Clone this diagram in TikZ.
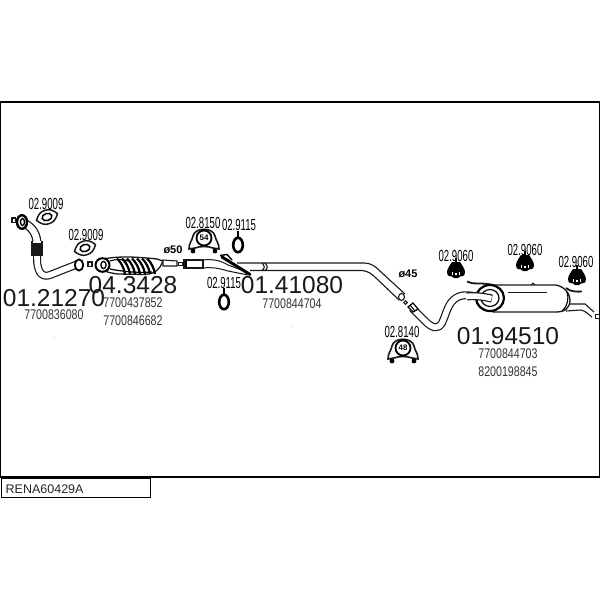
\documentclass[tikz,border=0pt]{standalone}
\usepackage{graphicx}
\usepackage{fontspec}
\setmainfont{Liberation Sans}
\newcommand{\tagtxt}[1]{\scalebox{0.60}[1]{\fontsize{16}{17}\selectfont #1}}
\newcommand{\numtxt}[1]{\scalebox{0.76}[1]{\fontsize{14}{15}\selectfont #1}}
\newcommand{\bigtxt}[1]{{\fontsize{24.5}{26}\selectfont #1}}
\tikzset{
 x=1pt,y=-1pt,
 tagl/.style={inner sep=0pt,text=black},
 numl/.style={inner sep=0pt,text=black!80},
 bigl/.style={inner sep=0pt,text=black!90},
 diam/.style={inner sep=0pt,font=\bfseries\fontsize{11}{12}\selectfont},
 pipeo/.style={line width=8pt,black!90,line cap=butt,line join=round},
 pipei/.style={line width=5.6pt,white,line cap=butt,line join=round},
 part/.style={draw=black!90,line width=1pt,fill=white},
 ring/.style={draw=black,line width=2.4pt,fill=white},
}
\newcommand{\clampicon}[3]{%
 \begin{scope}[shift={(#1,#2)}]
 \draw[part,line width=1.6pt] (-15,9) .. controls (-15,3) and (-12,1) .. (-11,-4) .. controls (-9,-13) and (9,-13) .. (11,-4) .. controls (12,1) and (15,3) .. (15,9) -- (9,8) .. controls (4,6) and (-4,6) .. (-9,8) -- cycle;
 \fill[black] (-11,11) circle (2.4); \fill[black] (11,11) circle (2.4);
 \node[draw=black,line width=1.8pt,fill=white,circle,minimum size=15pt,inner sep=0pt,font=\bfseries\fontsize{8}{8}\selectfont] at (0,-2) {#3};
 \end{scope}}
\newcommand{\gasket}[2]{%
 \begin{scope}[shift={(#1,#2)},rotate=18]
 \draw[part,line width=1.5pt] (-11,0) .. controls (-7,-6) and (-4,-7) .. (0,-7) .. controls (4,-7) and (7,-6) .. (11,0) .. controls (7,6) and (4,7) .. (0,7) .. controls (-4,7) and (-7,6) .. (-11,0) -- cycle;
 \draw[black,line width=1.5pt] (0,0) ellipse (5 and 3.6);
 \end{scope}}
\newcommand{\hanger}[2]{%
 \begin{scope}[shift={(#1,#2)}]
 \draw[black,line width=1.2pt] (0,-12) -- (0,-6);
 \fill[black] (-4,-8) -- (4,-8) .. controls (6,-5) and (9,-1) .. (9,2) .. controls (9,6) and (6,7) .. (4,6.5) -- (2,8) -- (-2,8) -- (-4,6.5) .. controls (-6,7) and (-9,6) .. (-9,2) .. controls (-9,-1) and (-6,-5) .. (-4,-8) -- cycle;
 \fill[white] (-4.4,2) rectangle (-3,5); \fill[white] (3,2) rectangle (4.4,5);
 \fill[white] (-0.8,3) rectangle (0.8,5);
 \end{scope}}
\newcommand{\rubber}[2]{%
 \begin{scope}[shift={(#1,#2)}]
 \draw[black,line width=1.2pt] (0,-14) -- (0,-8);
 \draw[black,line width=2.6pt,fill=white] (0,0) ellipse (4.8 and 7.2);
 \end{scope}}
\begin{document}
\begin{tikzpicture}
\useasboundingbox (0,0) rectangle (600,600);
\fill[white] (0,0) rectangle (600,600);
% frame
\draw[black,line width=1.1pt] (0.6,102) rectangle (599.4,477);
\node[draw=black,line width=1.1pt,minimum width=149pt,minimum height=19pt,inner sep=0pt,anchor=north west] (titlebox) at (1,478) {};
\node[inner sep=0pt,anchor=west,font=\fontsize{12.5}{13}\selectfont,text=black!85] (title) at (5.5,489) {RENA60429A};
% front pipe
\draw[pipeo,line width=9pt] (24,223) .. controls (32,227) and (37,234) .. (37,244);
\draw[pipei,line width=6.5pt] (24,223) .. controls (32,227) and (37,234) .. (37,244);
\draw[pipeo] (37,250) -- (37,258) .. controls (37,272) and (42,278) .. (50,275) -- (78,264);
\draw[pipei] (37,250) -- (37,258) .. controls (37,272) and (42,278) .. (50,275) -- (78,264);
\fill[black!90] (31,241) rectangle (43,256);
\fill[white] (33,240.5) rectangle (41,242.5);
\draw[part,line width=1.2pt] (12,218) rectangle (15.5,222.5);
\draw[ring] (22,222) ellipse (5 and 6.8);
\draw[black,line width=1.4pt] (22.5,222) ellipse (2 and 3.5);
\draw[ring,line width=1.8pt] (79,265) ellipse (4.2 and 5.6);
\draw[part,line width=1.2pt] (88,262) rectangle (92,266.5);
% catalyst
\draw[part,line width=1.3pt] (106,258.5) .. controls (120,256) and (140,257) .. (157,259) -- (163,261) -- (160,267) .. controls (156,273) and (150,274) .. (145,274.5) -- (118,274) .. controls (110,273) and (106,272) .. (104,270) -- cycle;
\foreach \xp in {117,122,127,132,137,142,147}{
 \draw[black,line width=2.2pt] (\xp,258.5) .. controls (\xp+4,262) and (\xp+7,268) .. (\xp+8,274);
}
\draw[black,line width=1.2pt] (110,269) .. controls (125,272) and (140,273) .. (152,272);
\draw[black,line width=1pt] (110,261) .. controls (116,259) and (122,259) .. (128,261);
\draw[ring,line width=2pt] (102.5,265) ellipse (7 and 6.8);
\draw[black,line width=1.3pt] (103.5,265) ellipse (2.6 and 3.6);
\draw[part,line width=1.1pt] (163,260) -- (177,261) -- (177,266) -- (163,266) -- cycle;
\draw[part,line width=1pt] (178,262) rectangle (182,265);
\node[diam] (d50) at (173,250) {ø50};
% middle pipe
\draw[part,line width=1.1pt] (184,260) rectangle (203,268);
\draw[black,line width=1.6pt] (186,261) -- (186,267);
\draw[black!90,line width=1pt] (203,260) .. controls (212,259) and (220,260) .. (228,265) -- (248,272.5);
\draw[black!90,line width=1pt] (203,268) .. controls (212,267) and (218,268) .. (228,271) -- (248,275);
\draw[black!90,line width=1.1pt] (237,263) -- (364,263) .. controls (371,263) and (375,266) .. (381,272) -- (405,294);
\draw[black!90,line width=1.1pt] (250,270.5) -- (362,270.5) .. controls (368,271) and (372,274) .. (376,278) -- (399,300);
\draw[black,line width=1pt] (262,263) .. controls (265,266) and (265,268) .. (262,270.5);
\draw[black,line width=1pt] (265,263) .. controls (268,266) and (268,268) .. (265,270.5);
\draw[black,line width=3pt,line cap=round] (222,257) -- (250,274.5);
\draw[black,line width=1.4pt] (220,255.5) -- (227,254.5) -- (232,260);
\draw[part,line width=1.1pt] (401.5,297) ellipse (3 and 3.6);
\node[diam] (d45) at (408,274) {ø45};
% rear pipe
\draw[part,line width=1pt] (405.5,302.5) circle (1.8);
\draw[pipeo] (412,308) -- (425,321) .. controls (432,328) and (438,330) .. (442,323) .. controls (447,312) and (448,303) .. (456,298) .. controls (464,293) and (470,296) .. (490,298);
\draw[pipei] (412,308) -- (425,321) .. controls (432,328) and (438,330) .. (442,323) .. controls (447,312) and (448,303) .. (456,298) .. controls (464,293) and (470,296) .. (490,298);
\draw[black,line width=1.2pt,fill=white] (408,307) -- (413,303) -- (418,309) -- (413,312) -- cycle;
\draw[black,line width=1pt] (410,305) -- (415,311);
% muffler
\draw[part,line width=1.3pt] (493,285) -- (556,285) .. controls (566,287) and (570,295) .. (570,300) .. controls (570,308) and (565,312) .. (556,312) -- (493,312) -- cycle;
\draw[black,line width=1.1pt] (567,292) .. controls (569,298) and (568,306) .. (562,311);
\draw[black!90,line width=1.1pt] (508,292.5) -- (547,292.5);
\draw[black!90,line width=1.8pt] (467,281.5) .. controls (473,285) and (480,282) .. (493,285);
\draw[black!90,line width=1pt] (531,285) -- (533,283) -- (535,285);
\draw[black!90,line width=1.8pt] (566,288) .. controls (570,291) and (574,292) .. (582,291.5);
\draw[ring,line width=2.2pt] (490,298) ellipse (14 and 13);
\draw[black,line width=1.2pt] (490,298) ellipse (9 and 8.5);
\draw[pipeo] (467,296.5) .. controls (475,295.5) and (482,296.5) .. (492,298.5);
\draw[pipei] (466,296.5) .. controls (475,295.5) and (482,296.5) .. (491.5,298.5);
% tail
\draw[black!90,line width=1.1pt] (570,304) -- (585,304) -- (594,312);
\draw[black!90,line width=1.1pt] (566,311) -- (581,310) .. controls (586,311) and (589,315) .. (592,317);
\draw[part,line width=1pt] (595,314) rectangle (599,318);
% hardware
\gasket{47}{217}
\gasket{85}{248}
\clampicon{204}{240}{54}
\clampicon{403}{350}{48}
\rubber{238}{245}
\rubber{224}{302}
\hanger{456}{270}
\hanger{525}{263}
\hanger{577}{277}
% tags
\node[tagl] (t1) at (46,204) {\tagtxt{02.9009}};
\node[tagl] (t2) at (86,235) {\tagtxt{02.9009}};
\node[tagl] (t3) at (203,223) {\tagtxt{02.8150}};
\node[tagl] (t4) at (239,225) {\tagtxt{02.9115}};
\node[tagl] (t5) at (224,283) {\tagtxt{02.9115}};
\node[tagl] (t6) at (402,332) {\tagtxt{02.8140}};
\node[tagl] (t7) at (456,256) {\tagtxt{02.9060}};
\node[tagl] (t8) at (525,250) {\tagtxt{02.9060}};
\node[tagl] (t9) at (576,262) {\tagtxt{02.9060}};
% big labels
\node[bigl] (b1) at (54,298) {\bigtxt{01.21270}};
\node[bigl] (b2) at (133,285) {\bigtxt{04.3428}};
\node[bigl] (b3) at (292,285) {\bigtxt{01.41080}};
\node[bigl] (b4) at (508,336) {\bigtxt{01.94510}};
% numbers
\node[numl] (n1) at (54,315) {\numtxt{7700836080}};
\node[numl] (n2) at (133,303) {\numtxt{7700437852}};
\node[numl] (n3) at (133,321) {\numtxt{7700846682}};
\node[numl] (n4) at (292,304) {\numtxt{7700844704}};
\node[numl] (n5) at (508,354) {\numtxt{7700844703}};
\node[numl] (n6) at (508,372) {\numtxt{8200198845}};
% specks
\fill[black!70] (54,337) circle (.4);
\fill[black!70] (292,326) circle (.4);
\end{tikzpicture}
\end{document}
